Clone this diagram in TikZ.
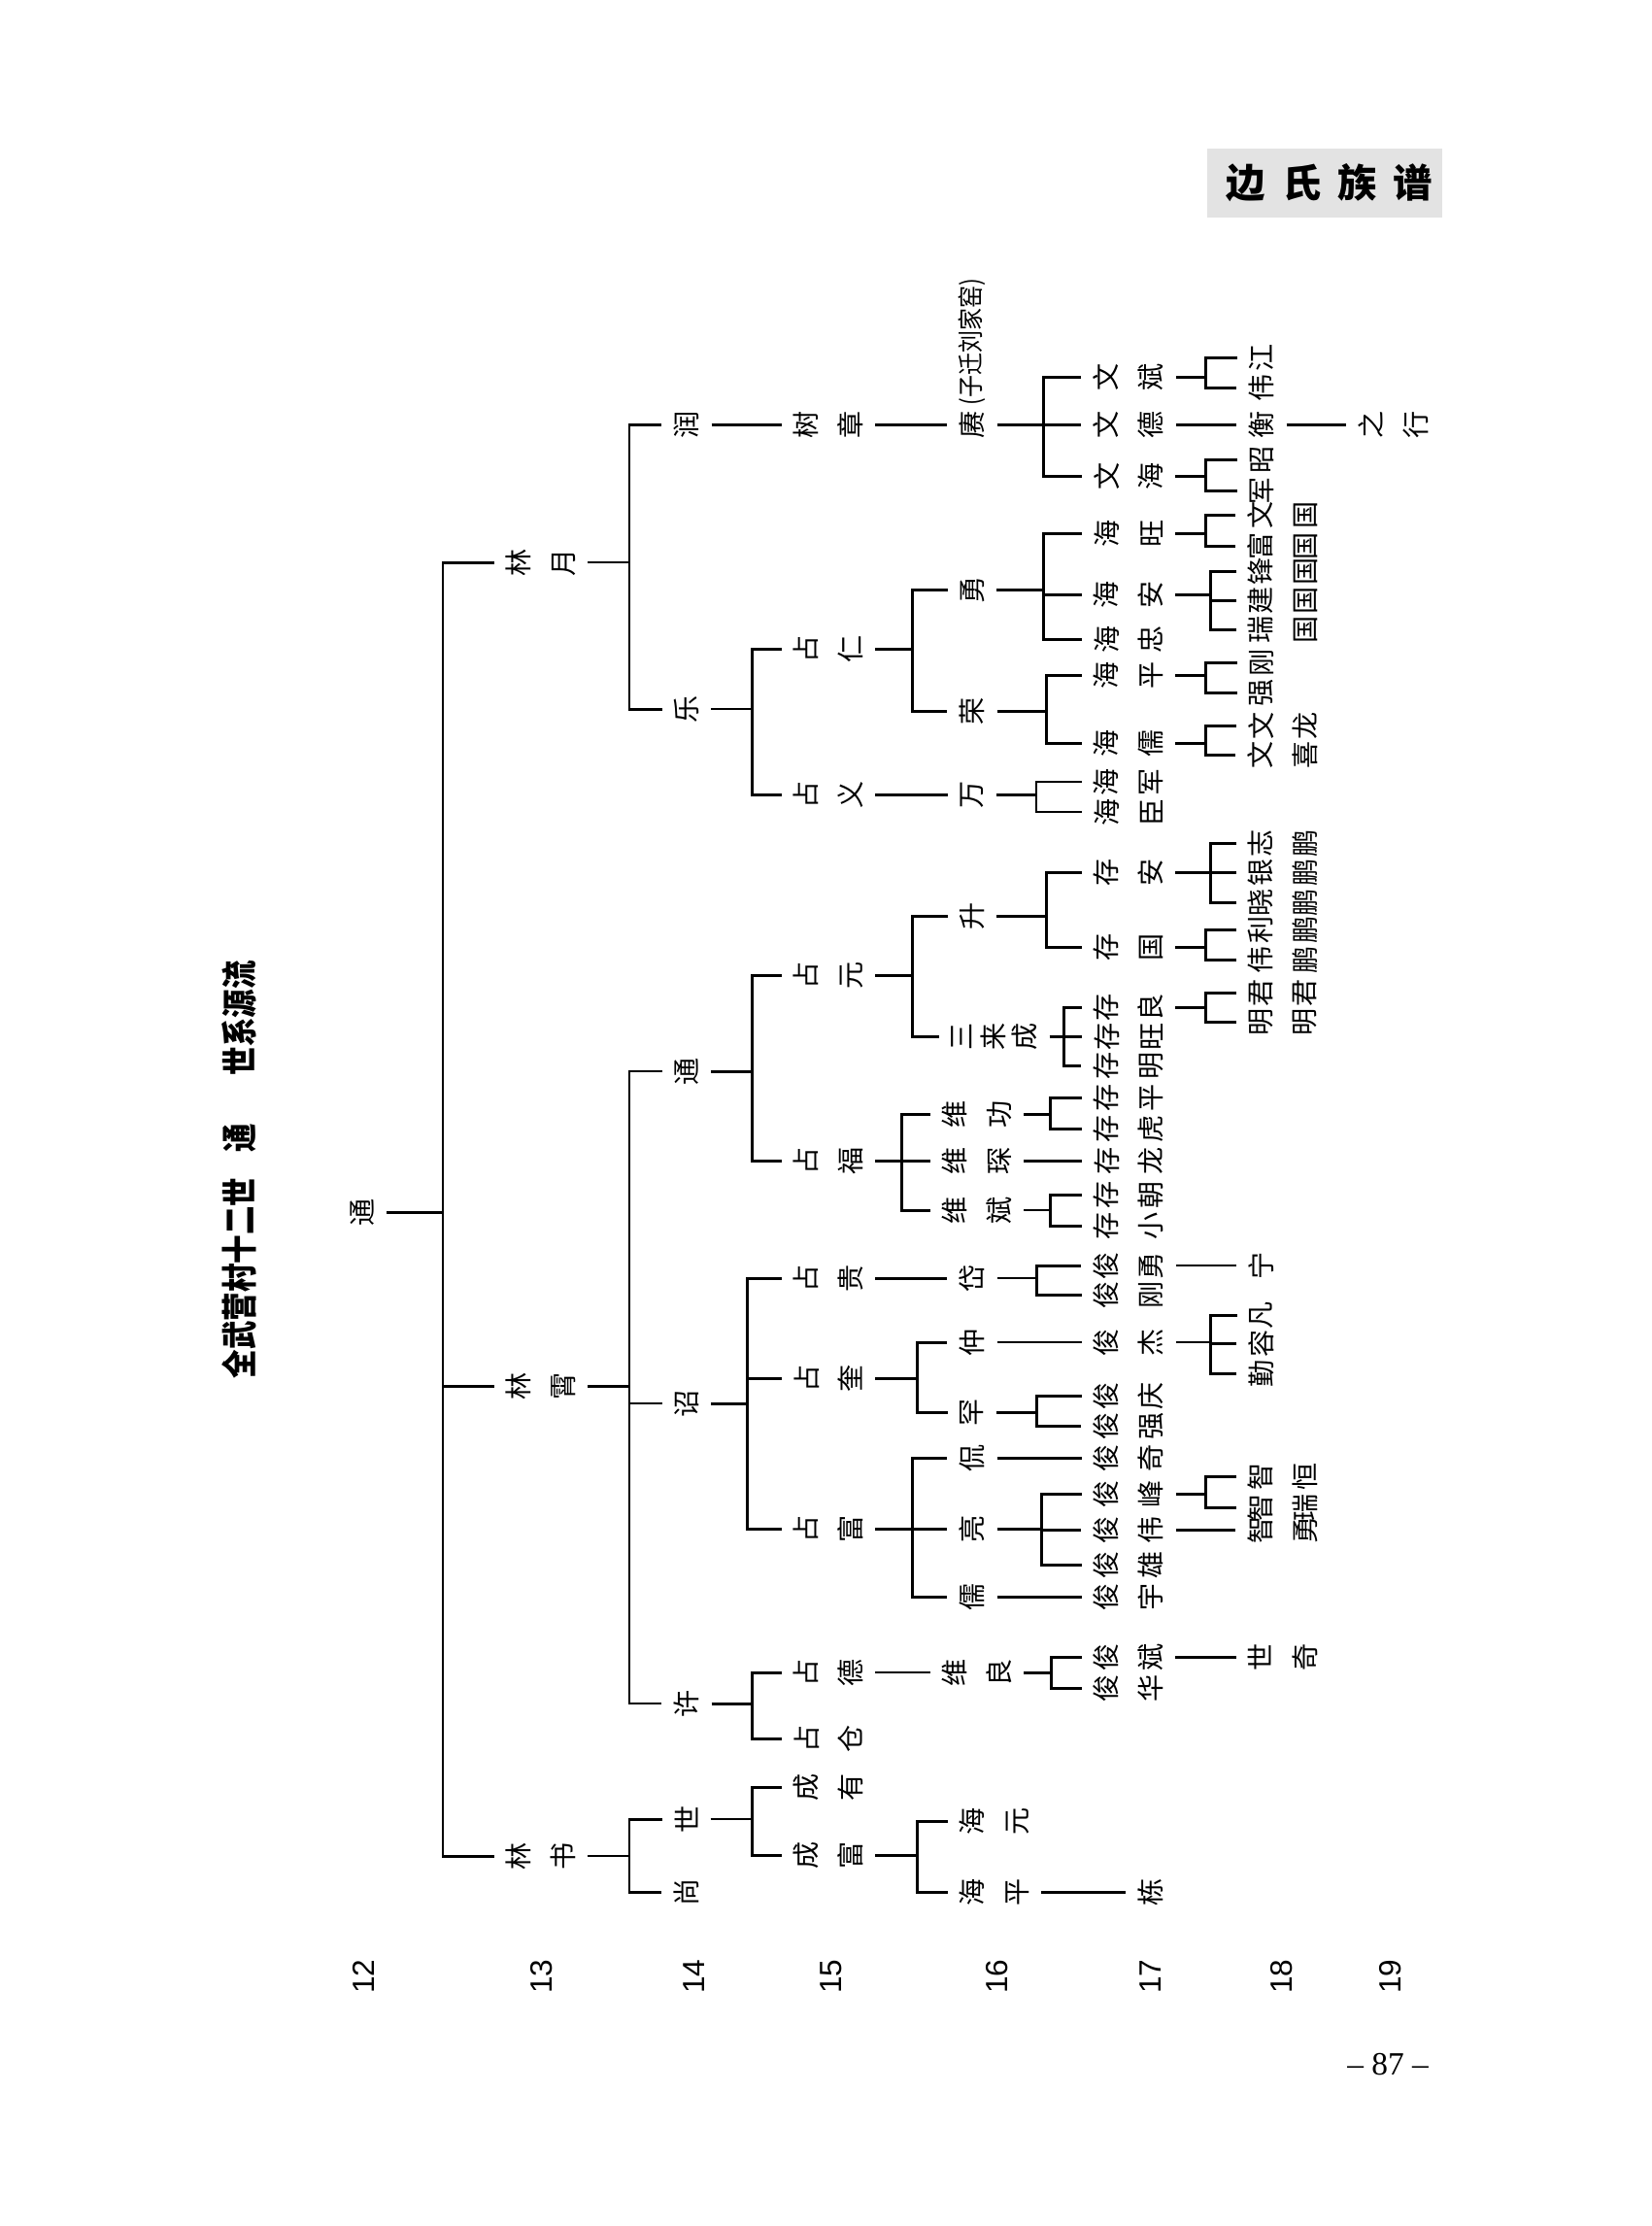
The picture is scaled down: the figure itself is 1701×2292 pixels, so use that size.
\documentclass[tikz,border=0pt]{standalone}
\usepackage{fontspec}
\setmainfont{Liberation Serif}
\newfontfamily\cjk{Noto Sans CJK SC}
\newfontfamily\cjknarrow{Noto Sans CJK SC}[FakeStretch=0.86]
\newfontfamily\cjktitle{Noto Sans CJK SC}[FakeStretch=0.8]
\newfontfamily\numfont{Liberation Sans}
\usepackage{tikz}
\usetikzlibrary{positioning,calc}

\begin{document}
\begin{tikzpicture}[x=0.1mm, y=-0.1mm,
    person/.style={rotate=90, align=center, inner sep=3.4pt, font=\cjk\fontsize{8}{13}\selectfont},
    trio/.style={person, font=\cjk\fontsize{8}{9.2}\selectfont},
    conn/.style={line width=0.85pt},
    thinconn/.style={line width=0.45pt}]
    \useasboundingbox (0,0) rectangle (1701,2292);

    \node[fill=gray!22, minimum width=24.2mm, minimum height=7.1mm, inner sep=0pt,
          font=\cjk\bfseries\fontsize{11.5}{12}\selectfont] (header) at (1364,188)
          {\hspace{1mm}边\hspace{1.7mm}氏\hspace{1.7mm}族\hspace{1.7mm}谱};
    \node[rotate=90, anchor=west, inner sep=0pt, font=\cjktitle\bfseries\fontsize{10.5}{11}\selectfont] (title) at (246,1420)
          {全武营村十二世\hspace{2.6mm}通\hspace{5mm}世系源流};

    \node[person] (tong) at (373,1248) {通};

    \node[person] (linyue) at (557,579) {林\\月};
    \node[person] (linxiao) at (557,1427) {林\\霄};
    \node[person] (linshu) at (557,1911) {林\\书};

    \node[person] (run) at (707,437) {润};
    \node[person] (le) at (707,730) {乐};
    \node[person] (tongB) at (707,1103) {通};
    \node[person] (zhao) at (707,1445) {诏};
    \node[person] (xu) at (707,1754) {许};
    \node[person] (shi) at (707,1873) {世};
    \node[person] (shang) at (707,1948) {尚};

    \node[person] (shuzhang) at (853,437) {树\\章};
    \node[person] (zhanren) at (853,668) {占\\仁};
    \node[person] (zhanyi) at (853,818) {占\\义};
    \node[person] (zhanyuan) at (853,1004) {占\\元};
    \node[person] (zhanfuA) at (853,1195) {占\\福};
    \node[person] (zhangui) at (853,1316) {占\\贵};
    \node[person] (zhankui) at (853,1419) {占\\奎};
    \node[person] (zhanfuB) at (853,1574) {占\\富};
    \node[person] (zhande) at (853,1722) {占\\德};
    \node[person] (zhancang) at (853,1790) {占\\仓};
    \node[person] (chengyou) at (853,1840) {成\\有};
    \node[person] (chengfu) at (853,1910) {成\\富};

    \node[person] (geng) at (1001,437) {赓};
    \node[rotate=90, anchor=west, inner sep=0pt, font=\cjknarrow\fontsize{7.6}{8}\selectfont] (note) at ([yshift=-0.8mm]geng.east) {(子迁刘家窑)};
    \node[person] (yong) at (1001,607) {勇};
    \node[person] (rong) at (1001,732) {荣};
    \node[person] (wan) at (1001,818) {万};
    \node[person] (sheng) at (1001,943) {升};
    \node[trio] (sanlaicheng) at (1024,1067) {三\\来\\成};
    \node[person] (weigong) at (1006,1147) {维\\功};
    \node[person] (weichen) at (1006,1195) {维\\琛};
    \node[person] (weibin) at (1006,1246) {维\\斌};
    \node[person] (dai) at (1001,1316) {岱};
    \node[person] (zhong) at (1001,1382) {仲};
    \node[person] (han) at (1001,1454) {罕};
    \node[person] (kan) at (1001,1501) {侃};
    \node[person] (liang) at (1001,1574) {亮};
    \node[person] (ru) at (1001,1644) {儒};
    \node[person] (weiliang) at (1006,1722) {维\\良};
    \node[person] (haiyuan) at (1024,1875) {海\\元};
    \node[person] (haipingA) at (1024,1948) {海\\平};

    \node[person] (wenbin) at (1162,388) {文\\斌};
    \node[person] (wende) at (1162,437) {文\\德};
    \node[person] (wenhai) at (1162,490) {文\\海};
    \node[person] (haiwang) at (1162,549) {海\\旺};
    \node[person] (haian) at (1162,612) {海\\安};
    \node[person] (haizhong) at (1162,658) {海\\忠};
    \node[person] (haipingB) at (1162,695) {海\\平};
    \node[person] (hairu) at (1162,765) {海\\儒};
    \node[person] (haijun) at (1162,805) {海\\军};
    \node[person] (haichen) at (1162,836) {海\\臣};
    \node[person] (cunan) at (1162,898) {存\\安};
    \node[person] (cunguo) at (1162,975) {存\\国};
    \node[person] (cunliang) at (1162,1037) {存\\良};
    \node[person] (cunwang) at (1162,1067) {存\\旺};
    \node[person] (cunming) at (1162,1097) {存\\明};
    \node[person] (cunping) at (1162,1130) {存\\平};
    \node[person] (cunhu) at (1162,1162) {存\\虎};
    \node[person] (cunlong) at (1162,1195) {存\\龙};
    \node[person] (cunchao) at (1162,1230) {存\\朝};
    \node[person] (cunxiao) at (1162,1262) {存\\小};
    \node[person] (junyong) at (1162,1303) {俊\\勇};
    \node[person] (jungang) at (1162,1333) {俊\\刚};
    \node[person] (junjie) at (1162,1382) {俊\\杰};
    \node[person] (junqing) at (1162,1437) {俊\\庆};
    \node[person] (junqiang) at (1162,1468) {俊\\强};
    \node[person] (junqi) at (1162,1501) {俊\\奇};
    \node[person] (junfeng) at (1162,1538) {俊\\峰};
    \node[person] (junwei) at (1162,1575) {俊\\伟};
    \node[person] (junxiong) at (1162,1611) {俊\\雄};
    \node[person] (junyu) at (1162,1644) {俊\\宇};
    \node[person] (junbin) at (1162,1706) {俊\\斌};
    \node[person] (junhua) at (1162,1738) {俊\\华};
    \node[person] (dong) at (1185,1948) {栋};

    \node[person] (jiang) at (1299,368) {江};
    \node[person] (weiA) at (1299,399) {伟};
    \node[person] (heng) at (1299,437) {衡};
    \node[person] (zhaoB) at (1299,473) {昭};
    \node[person] (junA) at (1299,505) {军};
    \node[person] (wenguo) at (1321,530) {文\\国};
    \node[person] (fuguo) at (1321,562) {富\\国};
    \node[person] (fengguo) at (1321,588) {锋\\国};
    \node[person] (jianguo) at (1321,618) {建\\国};
    \node[person] (ruiguo) at (1321,648) {瑞\\国};
    \node[person] (gang) at (1299,682) {刚};
    \node[person] (qiang) at (1299,713) {强};
    \node[person] (wenlong) at (1321,747) {文\\龙};
    \node[person] (wenxi) at (1321,777) {文\\喜};
    \node[person] (zhipeng) at (1321,868) {志\\鹏};
    \node[person] (yinpeng) at (1321,898) {银\\鹏};
    \node[person] (xiaopeng) at (1321,929) {晓\\鹏};
    \node[person] (lipeng) at (1321,957) {利\\鹏};
    \node[person] (weipeng) at (1321,988) {伟\\鹏};
    \node[person] (junjun) at (1321,1022) {君\\君};
    \node[person] (mingming) at (1321,1052) {明\\明};
    \node[person] (ning) at (1299,1303) {宁};
    \node[person] (fan) at (1299,1354) {凡};
    \node[person] (rongB) at (1299,1383) {容};
    \node[person] (qin) at (1299,1414) {勤};
    \node[person] (zhiheng) at (1321,1520) {智\\恒};
    \node[person] (zhirui) at (1321,1552) {智\\瑞};
    \node[person] (zhiyong) at (1321,1575) {智\\勇};
    \node[person] (shiqi) at (1321,1706) {世\\奇};

    \node[person] (zhixing) at (1435,437) {之\\行};

    \draw[conn] (tong.south) -- (tong.south -| 456,0) coordinate (f);
    \foreach \c in {linyue,linxiao,linshu} \draw[conn] (f) |- (\c.north);
    \draw[thinconn] (linyue.south) -- (linyue.south -| 648,0) coordinate (f);
    \foreach \c in {run,le} \draw[conn] (f) |- (\c.north);
    \draw[conn] (linxiao.south) -- (linxiao.south -| 648,0) coordinate (f);
    \foreach \c in {tongB,zhao,xu} \draw[thinconn] (f) |- (\c.north);
    \draw[thinconn] (linshu.south) -- (linshu.south -| 648,0) coordinate (f);
    \foreach \c in {shi,shang} \draw[conn] (f) |- (\c.north);

    \draw[conn] (run.south) -- (shuzhang.north);
    \draw[thinconn] (le.south) -- (le.south -| 774,0) coordinate (f);
    \foreach \c in {zhanren,zhanyi} \draw[conn] (f) |- (\c.north);
    \draw[conn] (tongB.south) -- (tongB.south -| 774,0) coordinate (f);
    \foreach \c in {zhanyuan,zhanfuA} \draw[conn] (f) |- (\c.north);
    \draw[conn] (zhao.south) -- (zhao.south -| 769,0) coordinate (f);
    \foreach \c in {zhangui,zhankui,zhanfuB} \draw[conn] (f) |- (\c.north);
    \draw[conn] (xu.south) -- (xu.south -| 774,0) coordinate (f);
    \foreach \c in {zhande,zhancang} \draw[conn] (f) |- (\c.north);
    \draw[thinconn] (shi.south) -- (shi.south -| 774,0) coordinate (f);
    \foreach \c in {chengyou,chengfu} \draw[conn] (f) |- (\c.north);

    \draw[conn] (shuzhang.south) -- (geng.north);
    \draw[conn] (zhanren.south) -- (zhanren.south -| 939,0) coordinate (f);
    \foreach \c in {yong,rong} \draw[conn] (f) |- (\c.north);
    \draw[conn] (zhanyi.south) -- (wan.north);
    \draw[conn] (zhanyuan.south) -- (zhanyuan.south -| 939,0) coordinate (f);
    \foreach \c in {sheng,sanlaicheng} \draw[conn] (f) |- (\c.north);
    \draw[conn] (zhanfuA.south) -- (zhanfuA.south -| 928,0) coordinate (f);
    \foreach \c in {weigong,weichen,weibin} \draw[conn] (f) |- (\c.north);
    \draw[conn] (zhangui.south) -- (dai.north);
    \draw[conn] (zhankui.south) -- (zhankui.south -| 944,0) coordinate (f);
    \foreach \c in {zhong,han} \draw[conn] (f) |- (\c.north);
    \draw[conn] (zhanfuB.south) -- (zhanfuB.south -| 939,0) coordinate (f);
    \foreach \c in {kan,liang,ru} \draw[conn] (f) |- (\c.north);
    \draw[thinconn] (zhande.south) -- (weiliang.north);
    \draw[conn] (chengfu.south) -- (chengfu.south -| 944,0) coordinate (f);
    \foreach \c in {haiyuan,haipingA} \draw[conn] (f) |- (\c.north);

    \draw[conn] (geng.south) -- (geng.south -| 1074,0) coordinate (f);
    \foreach \c in {wenbin,wende,wenhai} \draw[conn] (f) |- (\c.north);
    \draw[conn] (yong.south) -- (yong.south -| 1074,0) coordinate (f);
    \foreach \c in {haiwang,haian,haizhong} \draw[conn] (f) |- (\c.north);
    \draw[conn] (rong.south) -- (rong.south -| 1077,0) coordinate (f);
    \foreach \c in {haipingB,hairu} \draw[conn] (f) |- (\c.north);
    \draw[conn] (wan.south) -- (wan.south -| 1067,0) coordinate (f);
    \foreach \c in {haijun,haichen} \draw[thinconn] (f) |- (\c.north);
    \draw[conn] (sheng.south) -- (sheng.south -| 1077,0) coordinate (f);
    \foreach \c in {cunan,cunguo} \draw[conn] (f) |- (\c.north);
    \draw[conn] (sanlaicheng.south) -- (sanlaicheng.south -| 1095,0) coordinate (f);
    \foreach \c in {cunliang,cunwang,cunming} \draw[conn] (f) |- (\c.north);
    \draw[conn] (weigong.south) -- (weigong.south -| 1081,0) coordinate (f);
    \foreach \c in {cunping,cunhu} \draw[conn] (f) |- (\c.north);
    \draw[conn] (weichen.south) -- (cunlong.north);
    \draw[thinconn] (weibin.south) -- (weibin.south -| 1081,0) coordinate (f);
    \foreach \c in {cunchao,cunxiao} \draw[conn] (f) |- (\c.north);
    \draw[thinconn] (dai.south) -- (dai.south -| 1067,0) coordinate (f);
    \foreach \c in {junyong,jungang} \draw[conn] (f) |- (\c.north);
    \draw[thinconn] (zhong.south) -- (junjie.north);
    \draw[conn] (han.south) -- (han.south -| 1067,0) coordinate (f);
    \foreach \c in {junqing,junqiang} \draw[conn] (f) |- (\c.north);
    \draw[conn] (kan.south) -- (junqi.north);
    \draw[conn] (liang.south) -- (liang.south -| 1072,0) coordinate (f);
    \foreach \c in {junfeng,junwei,junxiong} \draw[conn] (f) |- (\c.north);
    \draw[conn] (ru.south) -- (junyu.north);
    \draw[conn] (weiliang.south) -- (weiliang.south -| 1082,0) coordinate (f);
    \foreach \c in {junbin,junhua} \draw[conn] (f) |- (\c.north);
    \draw[conn] (haipingA.south) -- (dong.north);

    \draw[conn] (wenbin.south) -- (wenbin.south -| 1241,0) coordinate (f);
    \foreach \c in {jiang,weiA} \draw[conn] (f) |- (\c.north);
    \draw[conn] (wende.south) -- (heng.north);
    \draw[conn] (heng.south) -- (zhixing.north);
    \draw[conn] (wenhai.south) -- (wenhai.south -| 1241,0) coordinate (f);
    \foreach \c in {zhaoB,junA} \draw[conn] (f) |- (\c.north);
    \draw[conn] (haiwang.south) -- (haiwang.south -| 1241,0) coordinate (f);
    \foreach \c in {wenguo,fuguo} \draw[conn] (f) |- (\c.north);
    \draw[conn] (haian.south) -- (haian.south -| 1246,0) coordinate (f);
    \foreach \c in {fengguo,jianguo,ruiguo} \draw[conn] (f) |- (\c.north);
    \draw[conn] (haipingB.south) -- (haipingB.south -| 1241,0) coordinate (f);
    \foreach \c in {gang,qiang} \draw[conn] (f) |- (\c.north);
    \draw[conn] (hairu.south) -- (hairu.south -| 1241,0) coordinate (f);
    \foreach \c in {wenlong,wenxi} \draw[conn] (f) |- (\c.north);
    \draw[conn] (cunan.south) -- (cunan.south -| 1246,0) coordinate (f);
    \foreach \c in {zhipeng,yinpeng,xiaopeng} \draw[conn] (f) |- (\c.north);
    \draw[conn] (cunguo.south) -- (cunguo.south -| 1241,0) coordinate (f);
    \foreach \c in {lipeng,weipeng} \draw[conn] (f) |- (\c.north);
    \draw[conn] (cunliang.south) -- (cunliang.south -| 1241,0) coordinate (f);
    \foreach \c in {junjun,mingming} \draw[conn] (f) |- (\c.north);
    \draw[thinconn] (junyong.south) -- (ning.north);
    \draw[thinconn] (junjie.south) -- (junjie.south -| 1246,0) coordinate (f);
    \foreach \c in {fan,rongB,qin} \draw[conn] (f) |- (\c.north);
    \draw[conn] (junfeng.south) -- (junfeng.south -| 1241,0) coordinate (f);
    \foreach \c in {zhiheng,zhirui} \draw[conn] (f) |- (\c.north);
    \draw[conn] (junwei.south) -- (zhiyong.north);
    \draw[conn] (junbin.south) -- (shiqi.north);

    \foreach \g/\x in {12/374,13/558,14/715,15/856,16/1027,17/1185,18/1320,19/1432}
        \node[rotate=90, font=\numfont\fontsize{9}{9}\selectfont] (gen\g) at (\x,2035) {\g};
    \node[font=\fontsize{9.5}{10}\selectfont] (pageno) at (1429,2126) {\textendash\ 87 \textendash};
\end{tikzpicture}
\end{document}
